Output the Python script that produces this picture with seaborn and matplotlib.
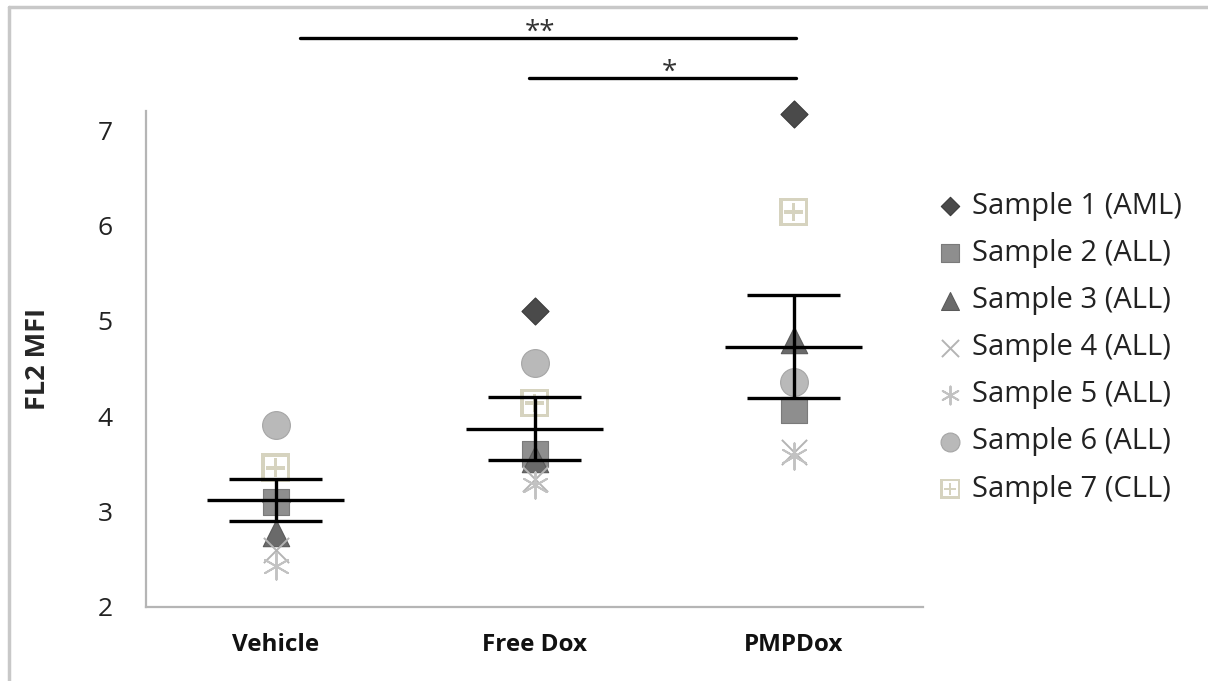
import numpy as np
import pandas as pd
import matplotlib
matplotlib.use("Agg")
import matplotlib.pyplot as plt
from matplotlib.lines import Line2D
import seaborn as sns

groups = ["Vehicle", "Free Dox", "PMPDox"]
samples = ["Sample 1 (AML)", "Sample 2 (ALL)", "Sample 3 (ALL)", "Sample 4 (ALL)",
           "Sample 5 (ALL)", "Sample 6 (ALL)", "Sample 7 (CLL)"]

# FL2 MFI per sample, in the order Vehicle / Free Dox / PMPDox
sample1 = [3.10, 5.10, 7.17]
sample2 = [3.10, 3.60, 4.07]
sample3 = [2.78, 3.55, 4.80]
sample4 = [2.60, 3.34, 3.62]
sample5 = [2.43, 3.28, 3.58]
sample6 = [3.91, 4.56, 4.36]
sample7 = [3.46, 4.14, 6.14]

# mean and SEM bars
group_mean = [3.12, 3.87, 4.73]
group_sem = [0.22, 0.33, 0.54]

values = [sample1, sample2, sample3, sample4, sample5, sample6, sample7]

rows = []
for name, vals in zip(samples, values):
    for g, v in zip(groups, vals):
        rows.append({"group": g, "sample": name, "value": v})
df = pd.DataFrame(rows)

sns.set_style("white")
plt.rcParams["font.family"] = ["Open Sans", "DejaVu Sans"]

styles = {
    "Sample 1 (AML)": dict(marker="D", color="#4a4a4a", s=190, edgecolor="#3a3a3a", linewidth=0.8),
    "Sample 2 (ALL)": dict(marker="s", color="#8e8e8e", s=340, edgecolor="#7a7a7a", linewidth=0.8),
    "Sample 3 (ALL)": dict(marker="^", color="#6a6a6a", s=360, edgecolor="#5a5a5a", linewidth=0.8),
    "Sample 4 (ALL)": dict(marker="x", color="#b4b4b4", s=330, linewidth=1.4),
    "Sample 5 (ALL)": dict(marker=(6, 2, 0), color="#c2c2c2", s=360, linewidth=1.4),
    "Sample 6 (ALL)": dict(marker="o", color="#b9b9b9", s=400, edgecolor="#a5a5a5", linewidth=0.8),
    "Sample 7 (CLL)": dict(marker="$\\boxplus$", color="#d6d3bf", s=420, edgecolor="none", linewidth=0),
}

fig = plt.figure(figsize=(12.08, 6.81), dpi=100)
ax = fig.add_axes([0.1209, 0.1087, 0.6432, 0.7283])

for name in samples:
    sub = df[df["sample"] == name]
    sns.scatterplot(data=sub, x="group", y="value", ax=ax, label=name, zorder=3,
                    clip_on=False, **styles[name])

x = np.arange(len(groups))
mean = np.array(group_mean)
sem = np.array(group_sem)
ax.hlines(mean, x - 0.265, x + 0.265, color="black", lw=2.4, zorder=5)
ax.hlines(mean + sem, x - 0.178, x + 0.178, color="black", lw=2.4, zorder=5)
ax.hlines(mean - sem, x - 0.178, x + 0.178, color="black", lw=2.4, zorder=5)
ax.vlines(x, mean - sem, mean + sem, color="black", lw=2.4, zorder=5)

ax.set_xlim(-0.5, 2.5)
ax.set_ylim(2, 7.2)
ax.set_yticks([2, 3, 4, 5, 6, 7])
ax.set_xticks(x)
ax.set_xticklabels(groups, fontweight="bold", fontsize=17.5)
ax.set_xticks([-0.5, 0.5, 1.5, 2.5], minor=True)
ax.set_xlabel("")
ax.set_ylabel("FL2 MFI", fontweight="bold", fontsize=19.5)
ax.yaxis.set_label_coords(-0.122, 0.5)

sns.despine(ax=ax)
for side in ["left", "bottom"]:
    ax.spines[side].set_color("#b5b5b5")
    ax.spines[side].set_linewidth(1.6)
ax.tick_params(axis="y", length=9, width=1.4, color="#b5b5b5", labelsize=19, pad=15, labelcolor="#222222")
ax.tick_params(axis="x", which="major", length=0, pad=19, labelcolor="#111111")
ax.tick_params(axis="x", which="minor", length=8, width=1.4, color="#b5b5b5")

# significance brackets
ax.plot([0.095, 2.01], [7.965, 7.965], color="black", lw=2.4, clip_on=False)
ax.text(1.02, 8.02, "**", ha="center", va="center", fontsize=20, color="#333333")
ax.plot([0.98, 2.01], [7.55, 7.55], color="black", lw=2.4, clip_on=False)
ax.text(1.52, 7.6, "*", ha="center", va="center", fontsize=20, color="#333333")

ax.legend(loc="upper left", bbox_to_anchor=(0.7768, 0.718), bbox_transform=fig.transFigure,
          frameon=False, fontsize=21, markerscale=0.68, handlelength=0.8, handletextpad=0.35,
          labelspacing=0.62, borderpad=0, borderaxespad=0, labelcolor="#222222")

# thin grey frame round the picture
fig.add_artist(Line2D([9 / 1208, 9 / 1208], [0, 1 - 7 / 681], transform=fig.transFigure,
                      color="#c8c8c8", lw=2.5))
fig.add_artist(Line2D([9 / 1208, 1], [1 - 7 / 681, 1 - 7 / 681], transform=fig.transFigure,
                      color="#c8c8c8", lw=2.5))

fig.savefig("out.png", dpi=100)
